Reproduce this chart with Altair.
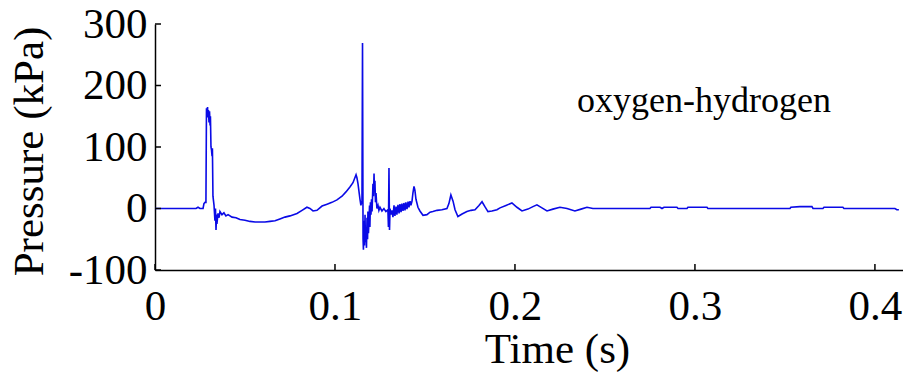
import altair as alt
import pandas as pd

time_s = [0.0, 0.0194, 0.0228, 0.0239, 0.0250, 0.0267, 0.0272, 0.0278, 0.0283, 0.0286,
          0.0289, 0.0292, 0.0294, 0.0297, 0.0300, 0.0303, 0.0306, 0.0308, 0.0311, 0.0314,
          0.0317, 0.0319, 0.0322, 0.0328, 0.0333, 0.0336, 0.0339, 0.0342, 0.0344, 0.0350,
          0.0356, 0.0361, 0.0372, 0.0383, 0.0394, 0.0406, 0.0428, 0.0450, 0.0472, 0.0500,
          0.0528, 0.0556, 0.0583, 0.0611, 0.0639, 0.0667, 0.0694, 0.0722, 0.0750, 0.0789,
          0.0817, 0.0844, 0.0861, 0.0878, 0.0900, 0.0928, 0.0956, 0.0983, 0.1011, 0.1039,
          0.1061, 0.1083, 0.1100, 0.1117, 0.1122, 0.1128, 0.1139, 0.1144, 0.1150, 0.1153,
          0.1156, 0.1158, 0.1161, 0.1164, 0.1167, 0.1169, 0.1172, 0.1175, 0.1178, 0.1181,
          0.1183, 0.1186, 0.1189, 0.1192, 0.1194, 0.1197, 0.1200, 0.1203, 0.1206, 0.1211,
          0.1214, 0.1217, 0.1219, 0.1222, 0.1225, 0.1228, 0.1233, 0.1239, 0.1244, 0.1250,
          0.1261, 0.1272, 0.1283, 0.1294, 0.1297, 0.1300, 0.1303, 0.1306, 0.1311, 0.1317,
          0.1322, 0.1328, 0.1333, 0.1339, 0.1344, 0.1350, 0.1356, 0.1361, 0.1367, 0.1372,
          0.1378, 0.1383, 0.1389, 0.1394, 0.1400, 0.1406, 0.1411, 0.1417, 0.1422, 0.1428,
          0.1433, 0.1439, 0.1444, 0.1450, 0.1461, 0.1472, 0.1489, 0.1511, 0.1528, 0.1544,
          0.1567, 0.1594, 0.1622, 0.1633, 0.1644, 0.1656, 0.1667, 0.1683, 0.1706, 0.1733,
          0.1756, 0.1778, 0.1800, 0.1817, 0.1833, 0.1850, 0.1872, 0.1900, 0.1917, 0.1950,
          0.1983, 0.2011, 0.2039, 0.2072, 0.2100, 0.2122, 0.2150, 0.2178, 0.2211, 0.2250,
          0.2289, 0.2333, 0.2367, 0.2400, 0.2433, 0.2750, 0.2756, 0.2806, 0.2817, 0.2828,
          0.2900, 0.2906, 0.2956, 0.2961, 0.3067, 0.3072, 0.3528, 0.3533, 0.3583, 0.3650,
          0.3656, 0.3711, 0.3717, 0.3822, 0.3828, 0.4111, 0.4122, 0.4133]

pressure_kpa = [0, 0, 0, 2, 0, 0, 8, 10, 10, 163,
                155, 165, 148, 160, 140, 158, 135, 150, 100, 95,
                85, 98, 20, 5, -20, 0, -35, -10, -25, -8,
                -15, -5, -10, -7, -12, -10, -14, -15, -18, -19,
                -21, -22, -22, -22, -21, -20, -17, -14, -12, -8,
                -3, 2, 0, -4, -3, 4, 7, 10, 14, 20,
                27, 35, 42, 55, 50, 40, 15, 5, 12, 269,
                -50, -67, -20, -60, -10, -55, -30, -64, -15, -50,
                -5, -40, -20, 5, -30, 10, -10, 15, -5, 40,
                20, 57, 30, 45, 10, 25, 0, 5, -3, 2,
                -4, 0, -5, -2, -30, 66, -35, 0, -10, -3,
                -14, 5, -12, 3, -10, 6, -8, 7, -6, 8,
                -4, 9, -3, 10, -1, 11, 2, 12, 5, 12,
                25, 36, 30, 15, 2, -4, -11, -10, -6, -5,
                -3, -2, 0, 8, 22, 12, -2, -13, -9, -5,
                -3, -2, 5, 11, 3, -5, -4, -2, 1, 5,
                9, 2, -4, -1, 3, 6, 1, -4, -1, 2,
                0, -4, -1, 2, 0, 0, 2, 2, 0, 2,
                2, 0, 0, 2, 2, 0, 0, 2, 3, 3,
                0, 0, 2, 2, 0, 0, -2, -2]

x_ticks = [0, 0.1, 0.2, 0.3, 0.4]
y_ticks = [-100, 0, 100, 200, 300]
label_text = "oxygen-hydrogen"

FONT = "Liberation Serif"
W, H = 748, 246

df = pd.DataFrame({"t": time_s, "p": pressure_kpa})
xt = pd.DataFrame({"t": x_ticks})
yt = pd.DataFrame({"p": y_ticks})

xscale = alt.Scale(domain=[0, 0.4156], nice=False, zero=False)
yscale = alt.Scale(domain=[-100, 300], nice=False)

xaxis = alt.Axis(values=x_ticks, tickSize=0, labelPadding=15, labelFont=FONT,
                 labelFontSize=43, labelColor="black", domainColor="black",
                 domainWidth=1.5, grid=False, title="Time (s)", titleFont=FONT,
                 titleFontSize=43, titleFontWeight="normal", titleColor="black",
                 titleX=402, titleY=92, titleBaseline="alphabetic",
                 labelExpr="datum.value == 0 ? '0' : format(datum.value, '.1f')",
                 labelFlush=False, labelOverlap=False)
yaxis = alt.Axis(values=y_ticks, tickSize=0, labelPadding=8, labelFont=FONT,
                 labelFontSize=43, labelColor="black", domainColor="black",
                 domainWidth=1.5, grid=False, title="Pressure (kPa)", titleFont=FONT,
                 titleFontSize=43, titleFontWeight="normal", titleColor="black",
                 titleX=-113, titleY=127, titleBaseline="alphabetic",
                 labelExpr="'' + datum.value", labelOverlap=False, labelFlush=False)

line = alt.Chart(df).mark_line(color="#0a0ae6", strokeWidth=1.6, clip=True).encode(
    x=alt.X("t:Q", scale=xscale, axis=xaxis),
    y=alt.Y("p:Q", scale=yscale, axis=yaxis),
)

xtick_marks = alt.Chart(xt).mark_rule(color="black", strokeWidth=1.5).encode(
    x=alt.X("t:Q", scale=xscale),
    y=alt.value(H),
    y2=alt.value(H - 6),
)
ytick_marks = alt.Chart(yt).mark_rule(color="black", strokeWidth=1.5).encode(
    y=alt.Y("p:Q", scale=yscale),
    x=alt.value(0),
    x2=alt.value(6),
)

label = alt.Chart(pd.DataFrame({"txt": [label_text]})).mark_text(
    font=FONT, fontSize=36, align="left", baseline="alphabetic", color="black"
).encode(x=alt.value(422), y=alt.value(88), text="txt:N")

chart = alt.layer(line, xtick_marks, ytick_marks, label).properties(
    width=W, height=H,
    padding={"left": 155, "top": 24, "right": 0, "bottom": 105},
    autosize=alt.AutoSizeParams(type="none"),
    background="white",
).configure_view(stroke=None)

chart.save("out.html", embed_options={"renderer": "svg", "actions": False})
